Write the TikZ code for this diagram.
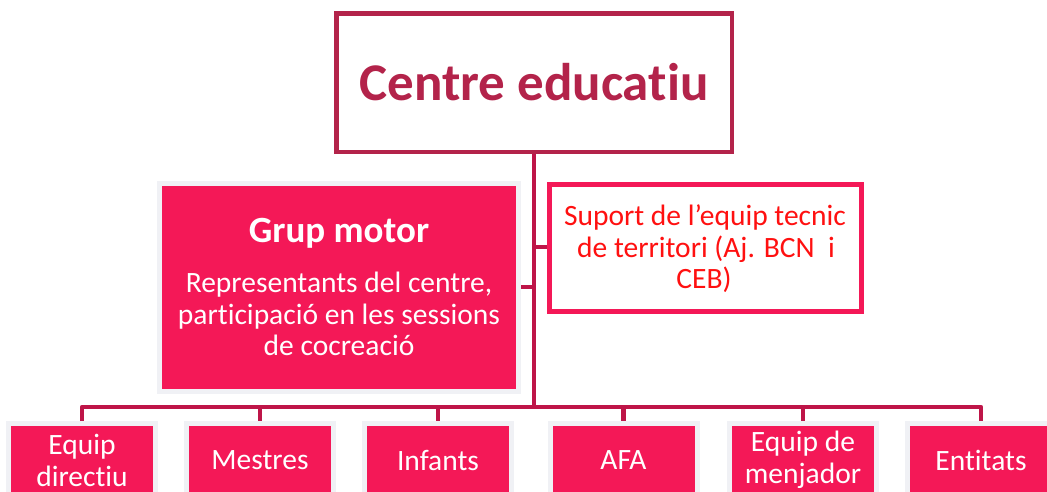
\documentclass[tikz,border=0pt]{standalone}
\usepackage{fontspec}
\setmainfont{Carlito}[Ligatures=NoCommon]
\definecolor{pinkfill}{HTML}{F41857}
\definecolor{darkbord}{HTML}{B3234A}
\definecolor{connc}{HTML}{BE1548}
\definecolor{grayedge}{HTML}{F0F1F5}
\definecolor{redtext}{HTML}{FF1010}
\begin{document}
\begin{tikzpicture}[x=1pt,y=-1pt,
  conn/.style={draw=connc,line width=4.5pt,line join=round},
  filledbox/.style={fill=pinkfill,draw=grayedge,line width=5pt,text=white,align=center,inner sep=0pt},
  bottombox/.style={filledbox,minimum width=147pt,minimum height=73pt,font=\fontsize{29.5}{32}\selectfont},
  gmline/.style={anchor=base,inner sep=0pt,text=white,font=\fontsize{29.5}{31.5}\selectfont},
  supline/.style={anchor=base,inner sep=0pt,text=redtext,font=\fontsize{29.5}{32}\selectfont},
]
\useasboundingbox (0,0) rectangle (1047,491);
% top box
\node[draw=darkbord,line width=4.5pt,fill=white,minimum width=395.5pt,minimum height=138.5pt,inner sep=0pt,
  text=darkbord,font=\fontsize{53}{62}\selectfont\bfseries] (top) at (534,82.5) {Centre educatiu};
% grup motor
\node[filledbox,minimum width=359pt,minimum height=208pt] (gm) at (339,287.5) {};
\node[gmline,font=\fontsize{37}{42}\selectfont\bfseries] (gmt) at (339,242) {Grup motor};
\node[gmline] (gmd1) at (339,292) {Representants del centre,};
\node[gmline] (gmd2) at (339,324) {participació en les sessions};
\node[gmline] (gmd3) at (339,355) {de cocreació};
% suport
\node[draw=pinkfill,line width=5pt,fill=white,minimum width=312pt,minimum height=127pt,inner sep=0pt] (sup) at (705.5,248) {};
\node[supline] (sup1) at (705,225) {Suport de l’equip tecnic};
\node[supline] (sup2) at (706,257) {de territori (Aj. BCN\ \ i};
\node[supline] (sup3) at (704,288) {CEB)};
% bottom boxes
\node[bottombox] (b1) at (82,460) {Equip\\directiu};
\node[bottombox] (b2) at (260,460) {Mestres};
\node[bottombox] (b3) at (438,460) {Infants};
\node[bottombox] (b4) at (623.5,460) {AFA};
\node[bottombox] (b5) at (803,460) {Equip de\\menjador};
\node[bottombox] (b6) at (981,460) {Entitats};
% connectors
\coordinate (busc) at (534,407);
\coordinate (gmj) at (534,287);
\coordinate (supj) at (534,247);
\draw[conn] (top.south) -- (busc);
\draw[conn] (gm.east |- gmj) -- (gmj);
\draw[conn] (supj) -- (sup.west |- supj);
\draw[conn] (b1.north) -- (b1.north |- busc) -- (b6.north |- busc) -- (b6.north);
\foreach \b in {b2,b3,b4,b5}{\draw[conn] (\b.north |- busc) -- (\b.north);}
\end{tikzpicture}
\end{document}
